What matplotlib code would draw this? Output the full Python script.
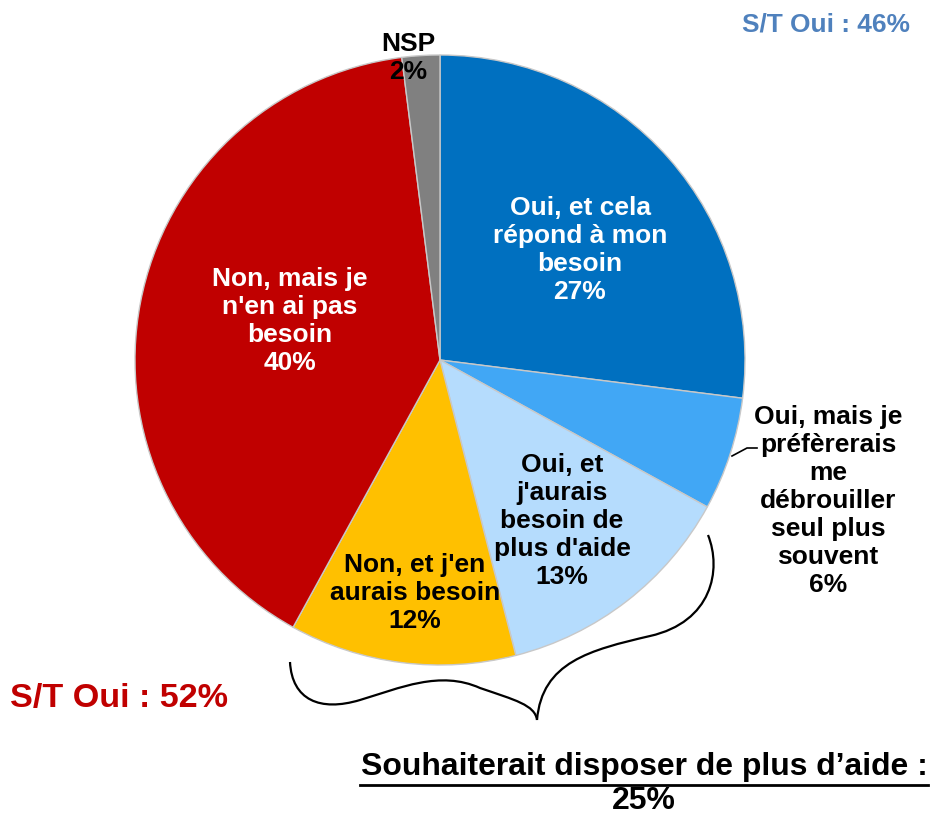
import matplotlib
matplotlib.use("Agg")
import matplotlib.pyplot as plt
from matplotlib import font_manager
from matplotlib.path import Path
from matplotlib.patches import PathPatch

labels = ["Oui, et cela\nrépond à mon\nbesoin",
          "Oui, mais je\npréfèrerais\nme\ndébrouiller\nseul plus\nsouvent",
          "Oui, et\nj'aurais\nbesoin de\nplus d'aide",
          "Non, et j'en\naurais besoin",
          "Non, mais je\nn'en ai pas\nbesoin",
          "NSP"]
values = [27, 6, 13, 12, 40, 2]
colors = ["#0070C0", "#41A7F5", "#B5DCFD", "#FFC000", "#C00000", "#808080"]
text_colors = ["white", "black", "black", "black", "white", "black"]

total_oui = 46
total_non = 52
plus_aide = 25

W, H = 933, 816

names = {f.name for f in font_manager.fontManager.ttflist}
narrow = "Liberation Sans Narrow" if "Liberation Sans Narrow" in names else "Liberation Sans"
scale = 1.0 if narrow == "Liberation Sans Narrow" else 0.82

fig = plt.figure(figsize=(W / 100, H / 100), dpi=100)
ax = fig.add_axes([0, 0, 1, 1])

cx, cy, r = 440, H - 360, 305
wedges, _ = ax.pie(values, colors=colors, startangle=90, counterclock=False,
                   center=(cx, cy), radius=r,
                   wedgeprops=dict(edgecolor="#C8C8C8", linewidth=1))
ax.set_xlim(0, W)
ax.set_ylim(0, H)
ax.set_aspect("equal")
ax.axis("off")

# label positions (pixel coords, top-left origin)
label_pos = [(580, 250), (828, 501), (562, 521), (415, 593), (290, 321), (408, 58)]
for lab, v, tc, (x, y) in zip(labels, values, text_colors, label_pos):
    ax.text(x, H - y, f"{lab}\n{v}%", ha="center", va="center", color=tc,
            fontsize=19, fontweight="bold", family="Liberation Sans",
            linespacing=1.21)

# leader line for the 6% slice
ax.plot([732, 747, 757], [H - 456, H - 448, H - 448], color="black", lw=1.2)

# braces
def brace(pts):
    codes = [Path.MOVETO] + [Path.CURVE4] * (len(pts) - 1)
    verts = [(x, H - y) for x, y in pts]
    ax.add_patch(PathPatch(Path(verts, codes), fill=False, lw=1.6, ec="black"))

brace([(290, 662), (292, 700), (320, 712), (360, 700),
       (400, 688), (440, 670), (480, 688),
       (515, 700), (535, 705), (537, 720)])
brace([(708, 535), (722, 570), (712, 622), (650, 636),
       (590, 650), (542, 662), (537, 720)])

ax.text(910, H - 24, f"S/T Oui : {total_oui}%", ha="right", va="center",
        color="#4F81BD", fontsize=23 * scale, fontweight="bold", family=narrow)
ax.text(10, H - 698, f"S/T Oui : {total_non}%", ha="left", va="center",
        color="#C00000", fontsize=30 * scale, fontweight="bold", family=narrow)
ax.text(644, H - 767, "Souhaiterait disposer de plus d\u2019aide :", ha="center",
        va="center", color="black", fontsize=28 * scale, fontweight="bold",
        family=narrow)
ax.plot([360, 928], [H - 785, H - 785], color="black", lw=2)
ax.text(644, H - 801, f"{plus_aide}%", ha="center", va="center", color="black",
        fontsize=28 * scale, fontweight="bold", family=narrow)

fig.savefig("out.png", dpi=100)
